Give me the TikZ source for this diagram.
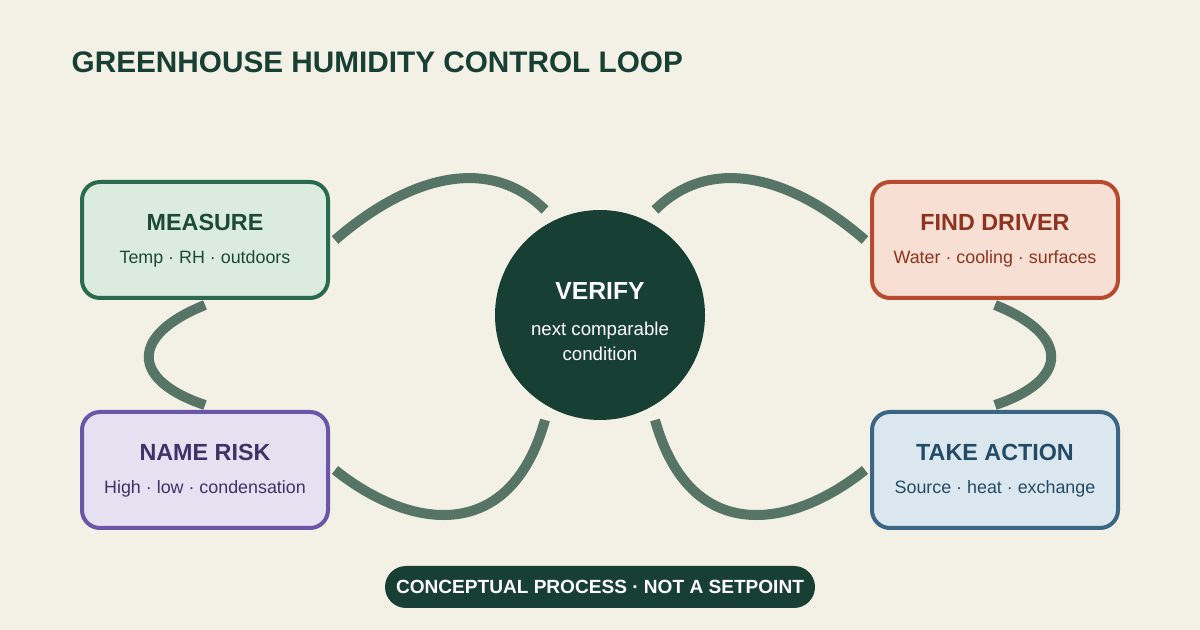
\documentclass[tikz,border=0pt]{standalone}
\usepackage{fontspec}
\setmainfont{Liberation Sans}
\begin{document}
\begin{tikzpicture}[x=0.75pt,y=-0.75pt,
 box/.style={draw,line width=3pt,rounded corners=13.5pt,minimum width=184.5pt,minimum height=87pt,align=center,inner sep=0pt},
 ttl/.style={font=\bfseries\fontsize{17.5}{20}\selectfont},
 sub/.style={font=\fontsize{13.4}{15}\selectfont},
 conn/.style={draw=linkc,line width=7.5pt}]
\definecolor{bg}{HTML}{F3F0E6}
\definecolor{dk}{HTML}{183F33}
\definecolor{linkc}{HTML}{577566}
\definecolor{gB}{HTML}{2A6A4F}\definecolor{gF}{HTML}{DCEBDF}\definecolor{gT}{HTML}{1D4A36}
\definecolor{rB}{HTML}{B84A30}\definecolor{rF}{HTML}{F7DFD4}\definecolor{rT}{HTML}{8E3320}
\definecolor{pB}{HTML}{6A55A8}\definecolor{pF}{HTML}{E6E1F0}\definecolor{pT}{HTML}{3E3268}
\definecolor{bB}{HTML}{3A6585}\definecolor{bF}{HTML}{DBE7EE}\definecolor{bT}{HTML}{234B66}
\fill[bg] (0,0) rectangle (1200,630);
\useasboundingbox (0,0) rectangle (1200,630);
\node[anchor=west,text=dk,font=\bfseries\fontsize{22.3}{25}\selectfont] (title) at (67,62) {GREENHOUSE HUMIDITY CONTROL LOOP};
% connectors
\coordinate (a1) at (335,240); \coordinate (a2) at (545,210);
\coordinate (b1) at (655,210); \coordinate (b2) at (865,240);
\coordinate (c1) at (205,305); \coordinate (c2) at (205,405);
\coordinate (d1) at (995,305); \coordinate (d2) at (995,405);
\coordinate (e1) at (335,470); \coordinate (e2) at (545,420);
\coordinate (f1) at (655,420); \coordinate (f2) at (865,470);
\draw[conn] (a1) .. controls (410,175) and (490,155) .. (a2);
\draw[conn] (b1) .. controls (710,155) and (790,175) .. (b2);
\draw[conn] (c1) .. controls (130,335) and (130,380) .. (c2);
\draw[conn] (d1) .. controls (1070,335) and (1070,380) .. (d2);
\draw[conn] (e1) .. controls (410,530) and (510,545) .. (e2);
\draw[conn] (f1) .. controls (690,545) and (790,530) .. (f2);
% boxes
\node[box,draw=gB,fill=gF] (m) at (205,240) {};
\node[ttl,text=gT] at (205,222) {MEASURE};
\node[sub,text=gT] at (205,259) {Temp · RH · outdoors};
\node[box,draw=rB,fill=rF] (f) at (995,240) {};
\node[ttl,text=rT] at (995,222) {FIND DRIVER};
\node[sub,text=rT] at (995,259) {Water · cooling · surfaces};
\node[box,draw=pB,fill=pF] (n) at (205,470) {};
\node[ttl,text=pT] at (205,452) {NAME RISK};
\node[sub,text=pT] at (205,489) {High · low · condensation};
\node[box,draw=bB,fill=bF] (t) at (995,470) {};
\node[ttl,text=bT] at (995,452) {TAKE ACTION};
\node[sub,text=bT] at (995,489) {Source · heat · exchange};
% circle
\node[circle,fill=dk,minimum size=157.5pt,inner sep=0pt] (v) at (600,315) {};
\node[text=white,font=\bfseries\fontsize{18.5}{21}\selectfont] at (600,291) {VERIFY};
\node[text=white,font=\fontsize{14}{16}\selectfont,align=center] at (600,341) {next comparable\\[3pt]condition};
% pill
\node[fill=dk,rounded corners=15.75pt,minimum width=322.5pt,minimum height=31.5pt,text=white,font=\bfseries\fontsize{14.3}{16}\selectfont] (p) at (600,587) {CONCEPTUAL PROCESS · NOT A SETPOINT};
\end{tikzpicture}
\end{document}
